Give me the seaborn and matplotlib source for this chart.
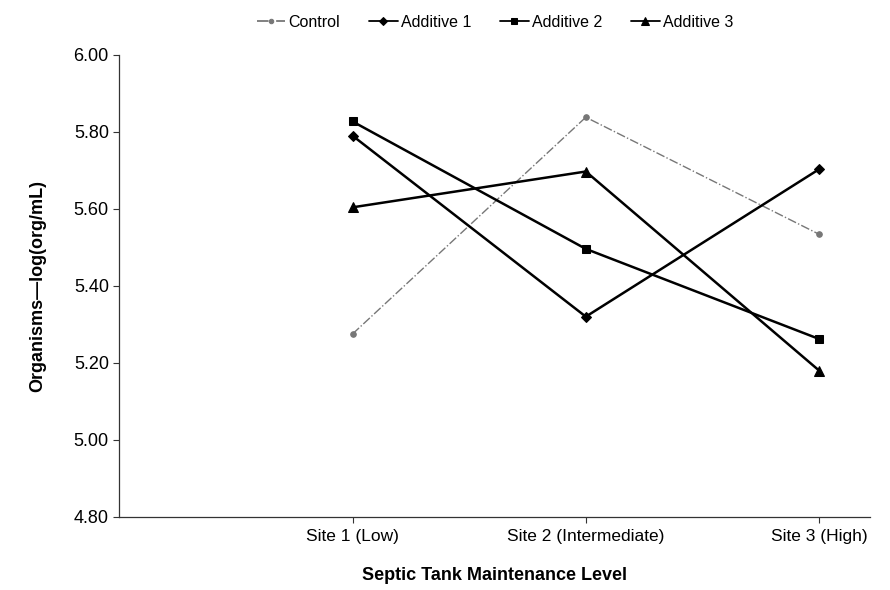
import pandas as pd
import matplotlib
matplotlib.use("Agg")
import matplotlib.pyplot as plt
import seaborn as sns

# Data
sites = ["Site 1 (Low)", "Site 2 (Intermediate)", "Site 3 (High)"]
positions = [1, 2, 3]
control = [5.275, 5.838, 5.534]
additive1 = [5.79, 5.32, 5.703]
additive2 = [5.827, 5.496, 5.262]
additive3 = [5.604, 5.697, 5.18]
yticks = [4.80, 5.00, 5.20, 5.40, 5.60, 5.80, 6.00]

sns.set_style("ticks")
plt.rcParams['font.family'] = ['Liberation Sans', 'DejaVu Sans']
plt.rcParams['text.color'] = 'black'
plt.rcParams['axes.labelcolor'] = 'black'
plt.rcParams['xtick.color'] = 'black'
plt.rcParams['ytick.color'] = 'black'

fig, ax = plt.subplots(figsize=(8.9, 5.9), dpi=100)
fig.subplots_adjust(left=0.134, right=0.978, top=0.907, bottom=0.124)

series = [
    ("Control", control, dict(color="#777777", linestyle="-.", linewidth=1.0, marker="o", markersize=4)),
    ("Additive 1", additive1, dict(color="black", linestyle="-", linewidth=1.8, marker="D", markersize=5)),
    ("Additive 2", additive2, dict(color="black", linestyle="-", linewidth=1.8, marker="s", markersize=6)),
    ("Additive 3", additive3, dict(color="black", linestyle="-", linewidth=1.8, marker="^", markersize=7)),
]

for name, vals, st in series:
    df = pd.DataFrame({"pos": positions, "val": vals})
    sns.lineplot(data=df, x="pos", y="val", ax=ax, label=name,
                 markeredgecolor=st["color"], **st)

ax.set_xlim(0, 3.22)
ax.set_ylim(4.80, 6.00)
ax.set_xticks(positions)
ax.set_xticklabels(sites, fontsize=12.5)
ax.set_yticks(yticks)
ax.set_yticklabels([f"{t:.2f}" for t in yticks], fontsize=13)
ax.tick_params(axis="both", length=4, width=0.8, color="#333333")
ax.tick_params(axis="x", pad=5)

ax.set_xlabel("Septic Tank Maintenance Level", fontsize=13, fontweight="bold", labelpad=16)
ax.set_ylabel("Organisms\u2014log(org/mL)", fontsize=13, fontweight="bold", labelpad=20)

for side in ["top", "right"]:
    ax.spines[side].set_visible(False)
for side in ["left", "bottom"]:
    ax.spines[side].set_color("#333333")
    ax.spines[side].set_linewidth(0.9)

leg = ax.legend(loc="lower center", bbox_to_anchor=(0.50, 1.04), ncol=4, frameon=False,
                fontsize=11.5, handlelength=1.8, handletextpad=0.2, columnspacing=1.8,
                borderaxespad=0, markerscale=0.8)
for line in leg.get_lines():
    line.set_linewidth(1.3)

plt.savefig("out.png", dpi=100)
